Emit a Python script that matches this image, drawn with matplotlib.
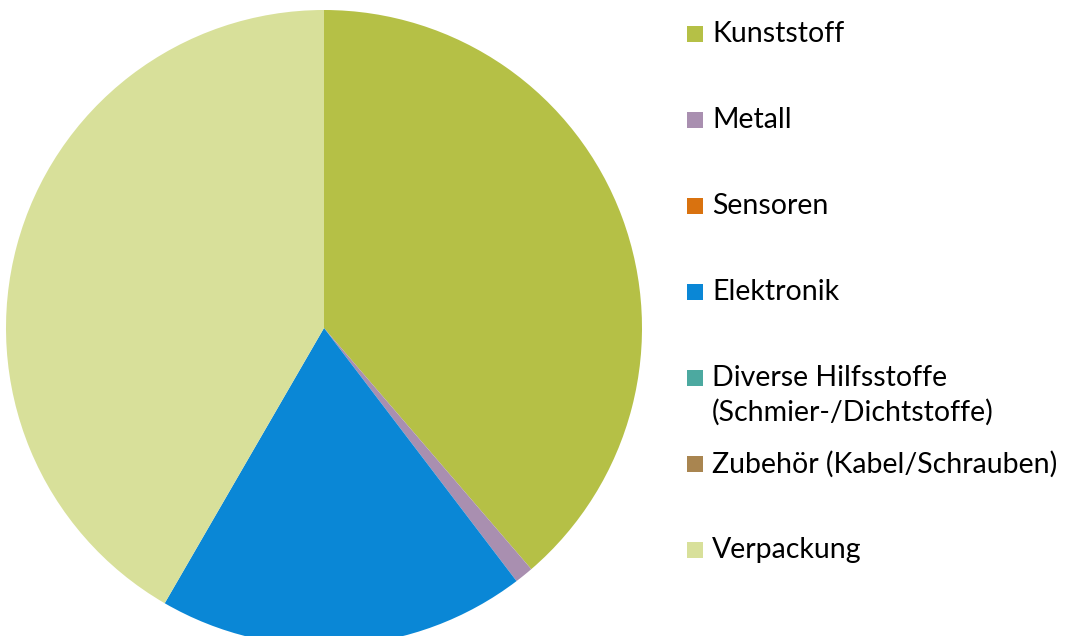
import matplotlib
matplotlib.use('Agg')
import matplotlib.pyplot as plt
import matplotlib.patches as patches

# Material shares (%), clockwise from 12 o'clock
labels = ['Kunststoff', 'Metall', 'Sensoren', 'Elektronik',
          'Diverse Hilfsstoffe\n(Schmier-/Dichtstoffe)',
          'Zubehör (Kabel/Schrauben)', 'Verpackung']
shares = [38.7, 0.95, 0.0, 18.7, 0.0, 0.0, 41.65]
colors = ['#B5C046', '#A98FB0', '#D9720F', '#0A87D6',
          '#4CA9A0', '#A98550', '#D8E09A']

W, H = 1066, 636
fig = plt.figure(figsize=(W / 100, H / 100), dpi=100)
fig.patch.set_facecolor('white')

# pie: centre at (324, 328) px from top-left, radius 318 px
cx, cy, r = 324, 328, 318
ax = fig.add_axes([(cx - r) / W, (H - cy - r) / H, 2 * r / W, 2 * r / H])
ax.pie(shares, colors=colors, startangle=90, counterclock=False,
       radius=1.0, wedgeprops=dict(linewidth=0))
ax.set_xlim(-1, 1)
ax.set_ylim(-1, 1)
ax.set_aspect('equal')
ax.axis('off')

# legend, one entry every 86 px
sq = 16
fs = 20.5
for i, (lab, col) in enumerate(zip(labels, colors)):
    yc = 34 + 86 * i
    fig.add_artist(patches.Rectangle((687 / W, (H - yc - sq / 2) / H), sq / W, sq / H,
                                     transform=fig.transFigure, color=col, lw=0))
    lines = lab.split('\n')
    for j, line in enumerate(lines):
        fig.text(712 / W, (H - yc - 34 * j) / H, line, fontsize=fs, family='Lato',
                 ha='left', va='center', color='black')

fig.savefig('out.png', dpi=100, facecolor='white')
